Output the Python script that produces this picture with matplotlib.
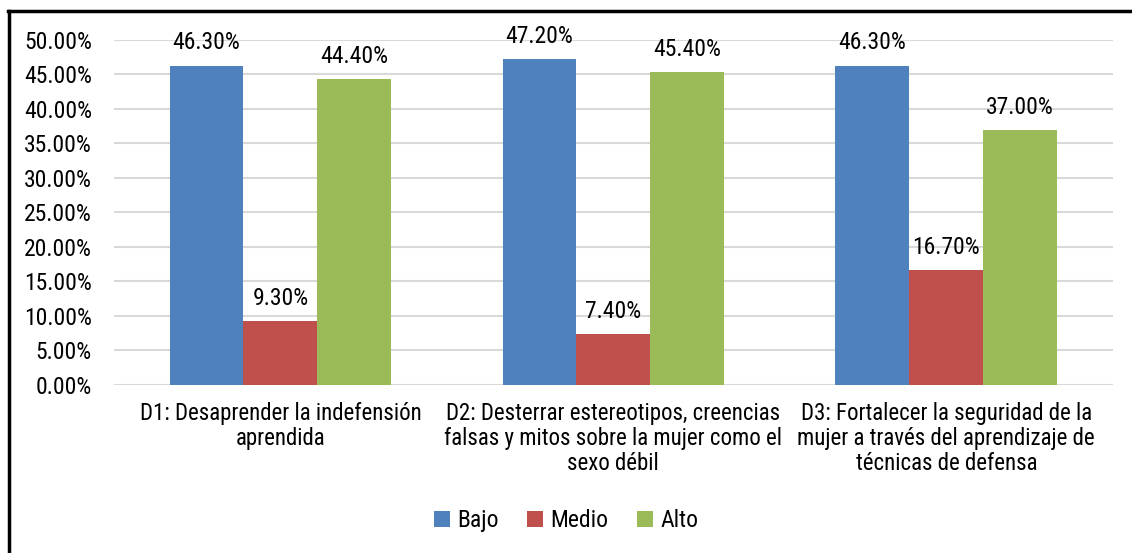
import numpy as np
import matplotlib.pyplot as plt
from matplotlib.lines import Line2D
from matplotlib.ticker import FuncFormatter

plt.rcParams['font.family'] = ['Liberation Sans Narrow', 'Arial Narrow', 'Roboto Condensed',
                               'Archivo Narrow', 'PT Sans Narrow', 'Liberation Sans', 'DejaVu Sans']

# data
categories = [
    "D1: Desaprender la indefensión\naprendida",
    "D2: Desterrar estereotipos, creencias\nfalsas y mitos sobre la mujer como el\nsexo débil",
    "D3: Fortalecer la seguridad de la\nmujer a través del aprendizaje de\ntécnicas de defensa",
]
series_names = ["Bajo", "Medio", "Alto"]
bajo = [0.463, 0.472, 0.463]
medio = [0.093, 0.074, 0.167]
alto = [0.444, 0.454, 0.370]

colors = ["#4F81BD", "#C0504D", "#9BBB59"]
fs = 17

fig = plt.figure(figsize=(11.32, 5.53), dpi=100)
ax = fig.add_axes([0.1007, 0.3038, 0.8823, 0.6239])

x = np.arange(len(categories))
w = 0.222
for i, (vals, name) in enumerate(zip([bajo, medio, alto], series_names)):
    pos = x + (i - 1) * w
    bars = ax.bar(pos, vals, width=w, color=colors[i], label=name, zorder=3)
    for b, v in zip(bars, vals):
        ax.annotate(f"{v * 100:.2f}%", (b.get_x() + w / 2, v), xytext=(0, 8),
                    textcoords="offset points", ha="center", va="bottom", fontsize=fs)

ax.set_xlim(-0.5, 2.5)
ax.set_ylim(0, 0.5)
ax.set_yticks(np.arange(0, 0.501, 0.05))
ax.yaxis.set_major_formatter(FuncFormatter(lambda v, p: f"{v * 100:.2f}%"))
ax.grid(axis="y", color="#D9D9D9", linewidth=1.5, zorder=0)
ax.set_xticks(x)
ax.set_xticklabels(categories, fontsize=16.5, linespacing=1.12)
ax.tick_params(axis="y", length=0, labelsize=fs, pad=16)
ax.tick_params(axis="x", length=0, pad=12)
for s in ax.spines.values():
    s.set_visible(False)

ax.legend(loc="center", bbox_to_anchor=(0.5, 0.058), bbox_transform=fig.transFigure,
          ncol=3, frameon=False, fontsize=fs, handlelength=0.7, handleheight=0.7,
          handletextpad=0.3, columnspacing=1.2)

# outer frame (top and left edges visible in the crop)
fig.add_artist(Line2D([0.008, 0.008], [0, 0.981], color="black", linewidth=2.5,
                      transform=fig.transFigure))
fig.add_artist(Line2D([0.007, 1.0], [0.981, 0.981], color="black", linewidth=2.5,
                      transform=fig.transFigure))

fig.savefig("out.png", dpi=100)
